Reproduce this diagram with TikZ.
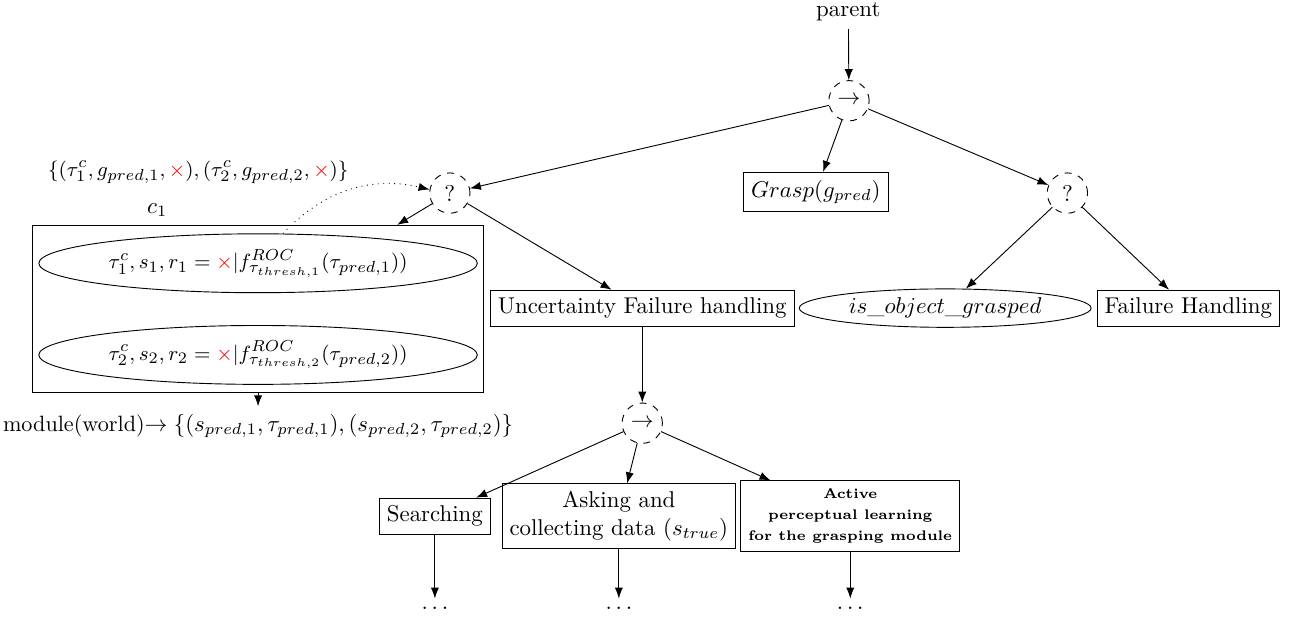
\documentclass[tikz,border=0pt]{standalone}
\usepackage{xcolor}
\usepackage{tikz}
\usetikzlibrary{shapes.geometric,arrows.meta,positioning,fit}

\begin{document}
\begin{tikzpicture}[
    box/.style={draw, align=center},
    ctrl/.style={draw, dashed, circle, minimum size=0.62cm, inner sep=0pt},
    cond/.style={draw, ellipse, inner xsep=3pt, inner ysep=1.5pt},
    mathlbl/.style={font=\fontsize{9.4}{11}\selectfont},
    arr/.style={-{Latex}},
    node distance=0.2cm
  ]
    \useasboundingbox (0,0) rectangle (19.86,-9.48);
    \node (parent) at (13.05,-0.18) {parent};
    \node[ctrl] (seq) at (13.06,-1.55) {$\rightarrow$};
    \node[ctrl] (fbl) at (6.92,-2.97) {?};
    \node[box] (grasp) at (12.55,-2.95) {$Grasp(g_{pred})$};
    \node[ctrl] (fbr) at (16.42,-2.97) {?};
    \node[box] (unc) at (9.88,-4.74) {Uncertainty Failure handling};
    \node[cond] (isobj) at (14.54,-4.74) {$is\_object\_grasped$};
    \node[box] (fail) at (18.28,-4.74) {Failure Handling};
    \node[cond, mathlbl, inner xsep=2.4pt, inner ysep=3pt] (e1) at (3.97,-4.05)
      {$\tau^c_1, s_1, r_1 = \textcolor{red}{\times}|f^{ROC}_{\tau_{thresh,1}}(\tau_{pred,1}))$};
    \node[cond, mathlbl, inner xsep=2.4pt, inner ysep=3pt] (e2) at (3.97,-5.46)
      {$\tau^c_2, s_2, r_2 = \textcolor{red}{\times}|f^{ROC}_{\tau_{thresh,2}}(\tau_{pred,2}))$};
    \node[draw, fit=(e1)(e2), inner xsep=2.5pt, inner ysep=3.5pt] (c1) {};
    \node at (2.42,-3.23) {$c_1$};
    \node[mathlbl] (set) at (3.05,-2.65)
      {$\{(\tau^c_1, g_{pred,1}, \textcolor{red}{\times}), (\tau^c_2, g_{pred,2}, \textcolor{red}{\times})\}$};
    \node[font=\fontsize{9.7}{11.5}\selectfont, below=of c1] (mod)
      {module(world)$\rightarrow \{(s_{pred,1}, \tau_{pred,1}), (s_{pred,2}, \tau_{pred,2})\}$};
    \node[ctrl] (seqb) at (9.88,-6.51) {$\rightarrow$};
    \node[box] (search) at (6.69,-7.94) {Searching};
    \node[box] (ask) at (9.52,-7.94) {Asking and\\collecting data ($s_{true}$)};
    \node[box, font=\fontsize{6.1}{9.3}\selectfont\bfseries] (active) at (13.08,-7.94)
      {Active\\perceptual learning\\for the grasping module};
    \node (d1) at (6.69,-9.35) {$\dots$};
    \node (d2) at (9.52,-9.35) {$\dots$};
    \node (d3) at (13.08,-9.35) {$\dots$};
    \draw[arr] (parent) -- (seq);
    \draw[arr] (seq) -- (fbl);
    \draw[arr] (seq) -- (grasp);
    \draw[arr] (seq) -- (fbr);
    \draw[arr] (fbl) -- (c1);
    \draw[arr] (fbl) -- (unc);
    \draw[arr] (fbr) -- (isobj);
    \draw[arr] (fbr) -- (fail);
    \draw[arr, dotted] (e1) to[bend left] (fbl);
    \draw[arr] (c1) -- (mod);
    \draw[arr] (unc) -- (seqb);
    \draw[arr] (seqb) -- (search);
    \draw[arr] (seqb) -- (ask);
    \draw[arr] (seqb) -- (active);
    \draw[arr] (search) -- (d1);
    \draw[arr] (ask) -- (d2);
    \draw[arr] (active) -- (d3);
  \end{tikzpicture}
\end{document}
